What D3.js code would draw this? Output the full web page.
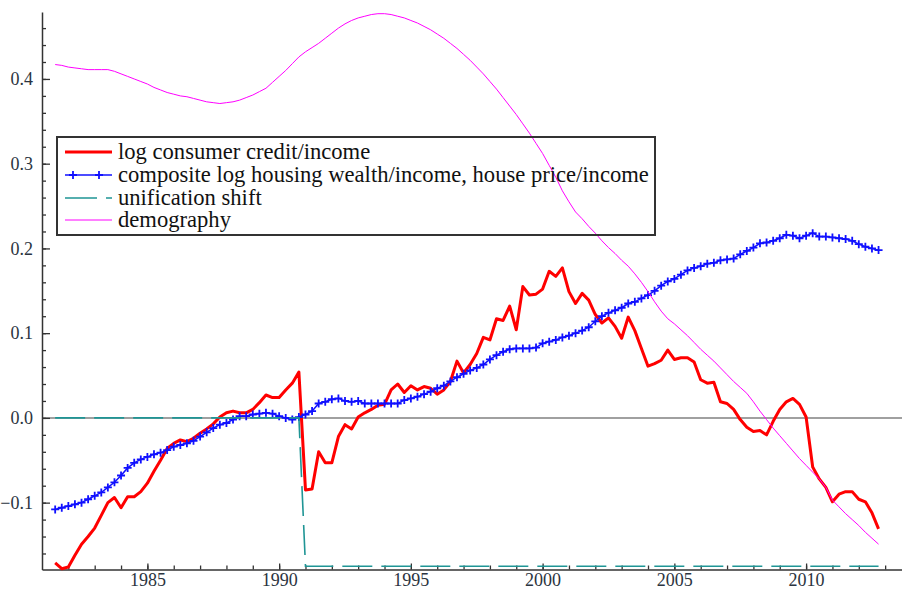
<!DOCTYPE html>
<html>
<head>
<meta charset="utf-8">
<script src="https://cdn.jsdelivr.net/npm/d3@7"></script>
<style>
body{margin:0;background:#fff;}
svg text{font-family:"Liberation Serif","Times New Roman",serif;}
</style>
</head>
<body>
<svg id="chart" width="902" height="591"></svg>
<script>
// quarterly data, first quarter 1981.5
startYear = 1981.5;

credit = [-0.171,-0.178,-0.176,-0.162,-0.149,-0.140,-0.130,-0.115,-0.100,-0.094,
-0.106,-0.093,-0.093,-0.087,-0.077,-0.063,-0.050,-0.036,-0.030,-0.026,
-0.028,-0.024,-0.018,-0.013,-0.007,0.001,0.006,0.008,0.006,0.006,
0.010,0.018,0.027,0.024,0.024,0.033,0.041,0.054,-0.085,-0.084,
-0.040,-0.053,-0.053,-0.022,-0.008,-0.013,0.001,0.006,0.010,0.015,
0.016,0.033,0.040,0.030,0.038,0.033,0.037,0.035,0.028,0.033,
0.043,0.067,0.053,0.063,0.076,0.095,0.092,0.117,0.115,0.132,
0.104,0.155,0.145,0.146,0.152,0.173,0.167,0.177,0.149,0.135,
0.147,0.139,0.122,0.112,0.118,0.108,0.094,0.119,0.103,0.082,
0.061,0.064,0.068,0.080,0.069,0.071,0.071,0.066,0.045,0.041,
0.042,0.019,0.017,0.010,-0.002,-0.011,-0.016,-0.015,-0.020,-0.004,
0.010,0.019,0.023,0.016,0.001,-0.058,-0.072,-0.082,-0.099,-0.090,
-0.087,-0.087,-0.096,-0.099,-0.112,-0.131];

housing = [-0.108,-0.106,-0.104,-0.102,-0.100,-0.096,-0.092,-0.088,-0.082,-0.076,
-0.068,-0.059,-0.053,-0.049,-0.046,-0.043,-0.041,-0.038,-0.034,-0.032,
-0.030,-0.027,-0.022,-0.017,-0.012,-0.008,-0.006,-0.002,0.002,0.002,
0.004,0.005,0.006,0.005,0.002,0.000,-0.002,0.001,0.004,0.008,
0.017,0.019,0.022,0.023,0.020,0.019,0.020,0.017,0.017,0.017,
0.017,0.017,0.017,0.021,0.023,0.025,0.028,0.031,0.035,0.038,
0.043,0.048,0.052,0.056,0.059,0.063,0.069,0.074,0.078,0.081,
0.082,0.082,0.082,0.083,0.088,0.090,0.092,0.095,0.097,0.100,
0.103,0.107,0.114,0.120,0.124,0.127,0.130,0.135,0.137,0.141,
0.145,0.150,0.156,0.161,0.164,0.169,0.174,0.177,0.179,0.182,
0.183,0.186,0.187,0.188,0.193,0.197,0.201,0.206,0.207,0.209,
0.212,0.216,0.215,0.212,0.215,0.218,0.214,0.214,0.213,0.212,
0.211,0.209,0.205,0.202,0.200,0.198];

demography = [0.417,0.416,0.414,0.413,0.412,0.411,0.411,0.411,0.411,0.409,
0.406,0.403,0.400,0.397,0.394,0.390,0.387,0.384,0.382,0.380,
0.379,0.377,0.375,0.373,0.372,0.371,0.372,0.373,0.375,0.378,
0.381,0.385,0.389,0.396,0.403,0.410,0.418,0.426,0.432,0.437,
0.442,0.448,0.454,0.460,0.465,0.469,0.472,0.474,0.476,0.477,
0.477,0.476,0.474,0.472,0.469,0.466,0.462,0.458,0.453,0.448,
0.442,0.436,0.429,0.422,0.414,0.406,0.397,0.388,0.378,0.368,
0.358,0.347,0.336,0.324,0.312,0.298,0.284,0.268,0.255,0.243,
0.235,0.226,0.218,0.209,0.201,0.194,0.186,0.179,0.170,0.160,
0.149,0.137,0.126,0.117,0.111,0.104,0.097,0.089,0.081,0.074,
0.067,0.059,0.051,0.043,0.036,0.029,0.019,0.008,-0.002,-0.012,
-0.021,-0.030,-0.039,-0.048,-0.056,-0.064,-0.072,-0.082,-0.097,-0.105,
-0.113,-0.120,-0.127,-0.135,-0.142,-0.149];

// unification shift: zero until 1990.75, then the level shift
shiftBreak = 1990.75;
shiftLevel = -0.175;

xMajor = [1985,1990,1995,2000,2005,2010];
yMajor = [-0.1,0.0,0.1,0.2,0.3,0.4];

legendNames = ['log consumer credit/income','composite log housing wealth/income, house price/income','unification shift','demography'];

var svg = d3.select('#chart');
var x = d3.scaleLinear().domain([1981,2013.64]).range([42,902]);
var y = d3.scaleLinear().domain([-0.1789,0.479]).range([569.5,12]);

function toPoints(values){
	return values.map(function(v,i){ return {t:startYear+i*0.25, v:v}; });
}

var shift = credit.map(function(d,i){
	var t = startYear+i*0.25;
	return t<=shiftBreak ? 0 : shiftLevel;
});

var line = d3.line().x(function(d){return x(d.t);}).y(function(d){return y(d.v);});

// zero line
svg.append('line').attr('x1',x.range()[0]).attr('x2',x.range()[1])
	.attr('y1',y(0)).attr('y2',y(0))
	.attr('stroke','#a0a0a0').attr('stroke-width',2);

// axes
var yMinor = d3.range(-16,48,2).map(function(d){return d/100;});
var xMinor = d3.range(1982,2014);

svg.append('g').attr('transform','translate('+x.range()[0]+',0)')
	.call(d3.axisLeft(y).tickValues(yMinor).tickSize(-4).tickSizeOuter(0).tickFormat(''))
	.call(function(g){g.select('.domain').remove();});
svg.append('g').attr('transform','translate(0,'+y.range()[0]+')')
	.call(d3.axisBottom(x).tickValues(xMinor).tickSize(-4).tickSizeOuter(0).tickFormat(''))
	.call(function(g){g.select('.domain').remove();});

var yAxis = svg.append('g').attr('transform','translate('+x.range()[0]+',0)')
	.call(d3.axisLeft(y).tickValues(yMajor).tickSize(-8).tickSizeOuter(0).tickPadding(9).tickFormat(d3.format('.1f')));
var xAxis = svg.append('g').attr('transform','translate(0,'+y.range()[0]+')')
	.call(d3.axisBottom(x).tickValues(xMajor).tickSize(-6).tickSizeOuter(0).tickPadding(4).tickFormat(d3.format('d')));

[yAxis,xAxis].forEach(function(g){
	g.selectAll('.domain').attr('stroke','#333').attr('stroke-width',1.5);
	g.selectAll('text').attr('font-size',18).attr('fill','#2b3440');
});
svg.selectAll('.tick line').attr('stroke','#333').attr('stroke-width',1.3);

// series
svg.append('path').datum(toPoints(credit)).attr('d',line)
	.attr('fill','none').attr('stroke','#ff0000').attr('stroke-width',3).attr('stroke-linejoin','round');

svg.append('path').datum(toPoints(housing)).attr('d',line)
	.attr('fill','none').attr('stroke','#1010ff').attr('stroke-width',1.5);
svg.append('g').selectAll('path').data(toPoints(housing)).join('path')
	.attr('transform',function(d){return 'translate('+x(d.t)+','+y(d.v)+')';})
	.attr('d','M-4,0H4M0,-4V4')
	.attr('stroke','#1010ff').attr('stroke-width',1.8);

svg.append('path').datum(toPoints(shift)).attr('d',line)
	.attr('fill','none').attr('stroke','#1f9595').attr('stroke-width',1.6)
	.attr('stroke-dasharray','30,9');

svg.append('path').datum(toPoints(demography)).attr('d',line)
	.attr('fill','none').attr('stroke','#ff00ff').attr('stroke-width',1);

// legend (no fill: the demography line shows through it)
var legend = svg.append('g').attr('transform','translate(57,137)');
legend.append('rect').attr('width',598).attr('height',98)
	.attr('fill','none').attr('stroke','#333').attr('stroke-width',2);

var rowY = [15,38,61,83];
legendNames.forEach(function(name,i){
	var row = legend.append('g').attr('transform','translate(0,'+rowY[i]+')');
	if(i==0){
		row.append('line').attr('x1',8).attr('x2',55).attr('stroke','#ff0000').attr('stroke-width',3);
	} else if(i==1){
		row.append('line').attr('x1',8).attr('x2',55).attr('stroke','#1010ff').attr('stroke-width',1.5);
		[16,42].forEach(function(m){
			row.append('path').attr('d','M'+(m-4)+',0H'+(m+4)+'M'+m+',-4V4')
				.attr('stroke','#1010ff').attr('stroke-width',1.8);
		});
	} else if(i==2){
		row.append('line').attr('x1',8).attr('x2',55).attr('stroke','#1f9595').attr('stroke-width',1.6)
			.attr('stroke-dasharray','32,9');
	} else {
		row.append('line').attr('x1',8).attr('x2',55).attr('stroke','#ff00ff').attr('stroke-width',1);
	}
	row.append('text').attr('x',61).attr('y',7).attr('font-size',22.6).attr('fill','#111').text(name);
});
</script>
</body>
</html>
